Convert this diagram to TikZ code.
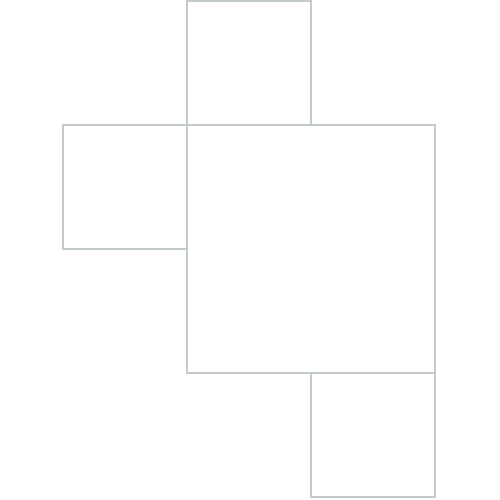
\documentclass[tikz,border=0pt]{standalone}
\usepackage{xcolor}
\definecolor{edgegray}{HTML}{C4CBCE}
\usepackage{tikz}

\begin{document}
\begin{tikzpicture}[sq/.style={draw=edgegray,line width=0.6pt,inner sep=0pt,outer sep=0pt,fill=white,minimum size=1.24cm},
                    bigsq/.style={sq,minimum size=2.48cm}]
  \useasboundingbox (0,0) rectangle (5,5);
  \node[bigsq,anchor=north west] (big) at (1.87,3.75) {};
  \node[sq,anchor=south west] (top) at (big.north west) {};
  \node[sq,anchor=north east] (left) at (big.north west) {};
  \node[sq,anchor=north east] (bottom) at (big.south east) {};
\end{tikzpicture}
\end{document}
